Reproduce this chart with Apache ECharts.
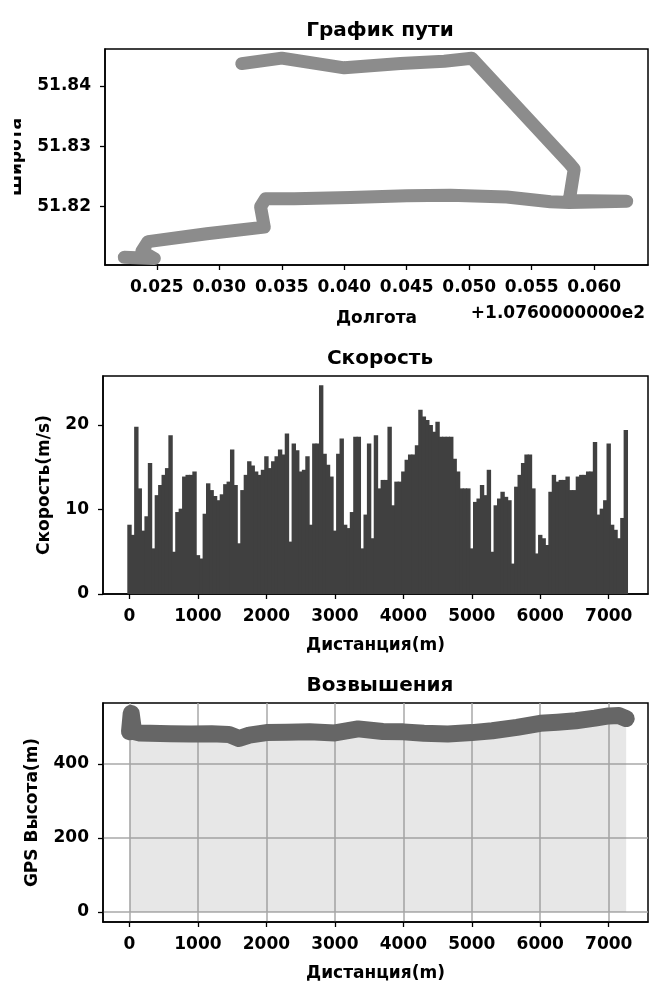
<!DOCTYPE html>
<html>
<head>
<meta charset="utf-8">
<title>GPS трек</title>
<script src="https://cdn.jsdelivr.net/npm/echarts@6/dist/echarts.min.js"></script>
<style>
html, body { margin: 0; padding: 0; background: #fff; }
#main { width: 651px; height: 983px; }
</style>
</head>
<body>
<div id="main"></div>
<script>
// ---- график пути: долгота (смещение от 107.6) и широта
var pathLon = [0.0224, 0.0248, 0.0238, 0.0243, 0.0290, 0.0336, 0.0333, 0.0337, 0.0360, 0.0405, 0.0450, 0.0485, 0.0530, 0.0565, 0.0580, 0.0626, 0.0580, 0.0584, 0.0580, 0.0502, 0.0480, 0.0445, 0.0400, 0.0350, 0.0318];
var pathLat = [51.8116, 51.8114, 51.8126, 51.8142, 51.8155, 51.8166, 51.8200, 51.8213, 51.8213, 51.8215, 51.8218, 51.8219, 51.8216, 51.8208, 51.8207, 51.8209, 51.8210, 51.8262, 51.8272, 51.8446, 51.8441, 51.8437, 51.8430, 51.8446, 51.8437];
var lonTicks = [0.025, 0.030, 0.035, 0.040, 0.045, 0.050, 0.055, 0.060];
var latTicks = [51.82, 51.83, 51.84];

// ---- скорость по дистанции
var speedDist = [0, 50, 100, 150, 200, 250, 300, 350, 400, 450, 500, 550, 600, 650, 700, 750, 800, 850, 900, 950,
  1000, 1050, 1100, 1150, 1200, 1250, 1300, 1350, 1400, 1450, 1500, 1550, 1600, 1650, 1700, 1750, 1800, 1850, 1900, 1950,
  2000, 2050, 2100, 2150, 2200, 2250, 2300, 2350, 2400, 2450, 2500, 2550, 2600, 2650, 2700, 2750, 2800, 2850, 2900, 2950,
  3000, 3050, 3100, 3150, 3200, 3250, 3300, 3350, 3400, 3450, 3500, 3550, 3600, 3650, 3700, 3750, 3800, 3850, 3900, 3950,
  4000, 4050, 4100, 4150, 4200, 4250, 4300, 4350, 4400, 4450, 4500, 4550, 4600, 4650, 4700, 4750, 4800, 4850, 4900, 4950,
  5000, 5050, 5100, 5150, 5200, 5250, 5300, 5350, 5400, 5450, 5500, 5550, 5600, 5650, 5700, 5750, 5800, 5850, 5900, 5950,
  6000, 6050, 6100, 6150, 6200, 6250, 6300, 6350, 6400, 6450, 6500, 6550, 6600, 6650, 6700, 6750, 6800, 6850, 6900, 6950,
  7000, 7050, 7100, 7150, 7200, 7250];
var speedVal = [8.2, 7.0, 19.8, 12.5, 7.5, 9.2, 15.5, 5.4, 11.7, 12.9, 14.1, 14.9, 18.8, 5.0, 9.7, 10.1, 13.9, 14.1, 14.1, 14.5,
  4.6, 4.2, 9.5, 13.1, 12.3, 11.6, 11.1, 11.8, 13.0, 13.3, 17.1, 12.9, 6.0, 12.3, 14.1, 15.7, 15.2, 14.5, 14.1, 14.7,
  16.3, 14.9, 15.7, 16.3, 17.1, 16.5, 19.0, 6.2, 17.8, 17.0, 14.5, 14.7, 16.3, 8.2, 17.8, 17.8, 24.7, 16.6, 15.3, 13.9,
  7.5, 16.6, 18.4, 8.2, 7.8, 9.7, 18.6, 18.6, 5.4, 9.4, 17.8, 6.6, 18.8, 12.5, 13.5, 13.5, 19.8, 10.5, 13.3, 13.3,
  14.5, 15.9, 16.5, 16.5, 17.6, 21.8, 21.0, 20.6, 20.0, 19.2, 20.4, 18.6, 18.6, 18.6, 18.6, 16.0, 14.5, 12.5, 12.5, 12.5,
  5.4, 10.9, 11.3, 12.9, 11.7, 14.7, 5.0, 10.5, 11.3, 12.1, 11.5, 11.1, 3.6, 12.7, 14.1, 15.5, 16.5, 16.5, 12.5, 4.8,
  7.0, 6.6, 5.8, 12.1, 14.1, 13.3, 13.5, 13.5, 13.9, 12.3, 12.3, 13.9, 14.1, 14.1, 14.5, 14.5, 18.0, 9.4, 10.1, 11.1,
  17.8, 8.2, 7.6, 6.6, 9.0, 19.4];
var distTicks = [0, 1000, 2000, 3000, 4000, 5000, 6000, 7000];
var speedTicks = [0, 10, 20];

// ---- высота GPS по дистанции
var eleDist = [0, 25, 60, 150, 300, 600, 900, 1200, 1450, 1600, 1750, 2000, 2300, 2630, 3000, 3340, 3700, 4000, 4300, 4650, 5000, 5300, 5660, 6000, 6250, 6520, 6800, 7000, 7150, 7255];
var eleVal = [487, 537, 488, 484, 483, 482, 481, 482, 480, 469, 478, 485, 486, 487, 484, 495, 488, 487, 483, 481, 485, 490, 499, 510, 513, 517, 524, 530, 531, 523];
var eleTicks = [0, 200, 400];

var FONT = 'DejaVu Sans';

function pairs(xs, ys) {
    var out = [];
    for (var i = 0; i < xs.length; i++) {
        out.push([xs[i], ys[i]]);
    }
    return out;
}

function axisOpt(ticks, fmt, extra) {
    var o = {
        type: 'value',
        axisLine: { show: true, onZero: false, lineStyle: { color: '#000', width: 1.5 } },
        axisTick: { show: true, inside: false, length: 5, customValues: ticks, lineStyle: { color: '#000', width: 1.3 } },
        axisLabel: {
            customValues: ticks, color: '#000', fontFamily: FONT, fontWeight: 'bold', fontSize: 17, margin: 14,
            formatter: fmt
        },
        splitLine: { show: false },
        nameTextStyle: { color: '#000', fontFamily: FONT, fontWeight: 'bold', fontSize: 17 },
        nameLocation: 'middle'
    };
    for (var k in extra) o[k] = extra[k];
    return o;
}

var gridLine = { show: true, lineStyle: { color: '#a8a8a8', width: 1.5 } };
var frame = { show: true, borderColor: '#000', borderWidth: 1.5, backgroundColor: 'transparent' };

var myChart = echarts.init(document.getElementById('main'), null, { renderer: 'canvas' });

var option = {
    animation: false,
    backgroundColor: '#fff',
    title: [
        { text: 'График пути', left: 375, top: 16, textAlign: 'center',
          textStyle: { fontFamily: FONT, fontWeight: 'bold', fontSize: 20, color: '#000' } },
        { text: 'Скорость', left: 375, top: 344, textAlign: 'center',
          textStyle: { fontFamily: FONT, fontWeight: 'bold', fontSize: 20, color: '#000' } },
        { text: 'Возвышения', left: 375, top: 671, textAlign: 'center',
          textStyle: { fontFamily: FONT, fontWeight: 'bold', fontSize: 20, color: '#000' } }
    ],
    grid: [
        Object.assign({ left: 103, top: 49, width: 545, height: 216 }, frame),
        Object.assign({ left: 103, top: 376, width: 545, height: 218 }, frame),
        Object.assign({ left: 103, top: 703, width: 545, height: 219 }, frame)
    ],
    xAxis: [
        axisOpt(lonTicks, function (v) { return v.toFixed(3); },
            { gridIndex: 0, min: 0.020854, max: 0.064305, name: 'Долгота', nameGap: 45 }),
        axisOpt(distTicks, function (v) { return String(v); },
            { gridIndex: 1, min: -387, max: 7574, name: 'Дистанция(m)', nameGap: 43 }),
        axisOpt(distTicks, function (v) { return String(v); },
            { gridIndex: 2, min: -387, max: 7574, name: 'Дистанция(m)', nameGap: 43, splitLine: gridLine })
    ],
    yAxis: [
        axisOpt(latTicks, function (v) { return v.toFixed(2); },
            { gridIndex: 0, min: 51.81033, max: 51.84612, name: 'Широта', nameGap: 80 }),
        axisOpt(speedTicks, function (v) { return String(v); },
            { gridIndex: 1, min: 0, max: 25.8, name: 'Скорость(m/s)', nameGap: 50 }),
        axisOpt(eleTicks, function (v) { return String(v); },
            { gridIndex: 2, min: -27, max: 565, name: 'GPS Высота(m)', nameGap: 62, splitLine: gridLine })
    ],
    graphic: [
        { type: 'text', right: 6, top: 305, z: 100,
          style: { text: '+1.0760000000e2', fill: '#000', font: 'bold 17px "DejaVu Sans"' } },
        // левая часть подписи оси обрезана в оригинале
        { type: 'rect', left: 0, top: 90, z: 100, shape: { width: 14, height: 140 }, style: { fill: '#fff' } }
    ],
    series: [
        {
            type: 'line',
            xAxisIndex: 0, yAxisIndex: 0,
            data: pairs(pathLon, pathLat),
            showSymbol: false,
            lineStyle: { color: '#8c8c8c', width: 13, cap: 'round', join: 'round' }
        },
        {
            type: 'bar',
            xAxisIndex: 1, yAxisIndex: 1,
            data: pairs(speedDist, speedVal),
            barWidth: 4.4,
            itemStyle: { color: '#404040' }
        },
        {
            type: 'line',
            xAxisIndex: 2, yAxisIndex: 2,
            data: pairs(eleDist, eleVal),
            showSymbol: false,
            lineStyle: { color: '#666666', width: 17, cap: 'round', join: 'round' },
            areaStyle: { color: 'rgba(140,140,140,0.3)' }
        }
    ]
};

myChart.setOption(option);
</script>
</body>
</html>
